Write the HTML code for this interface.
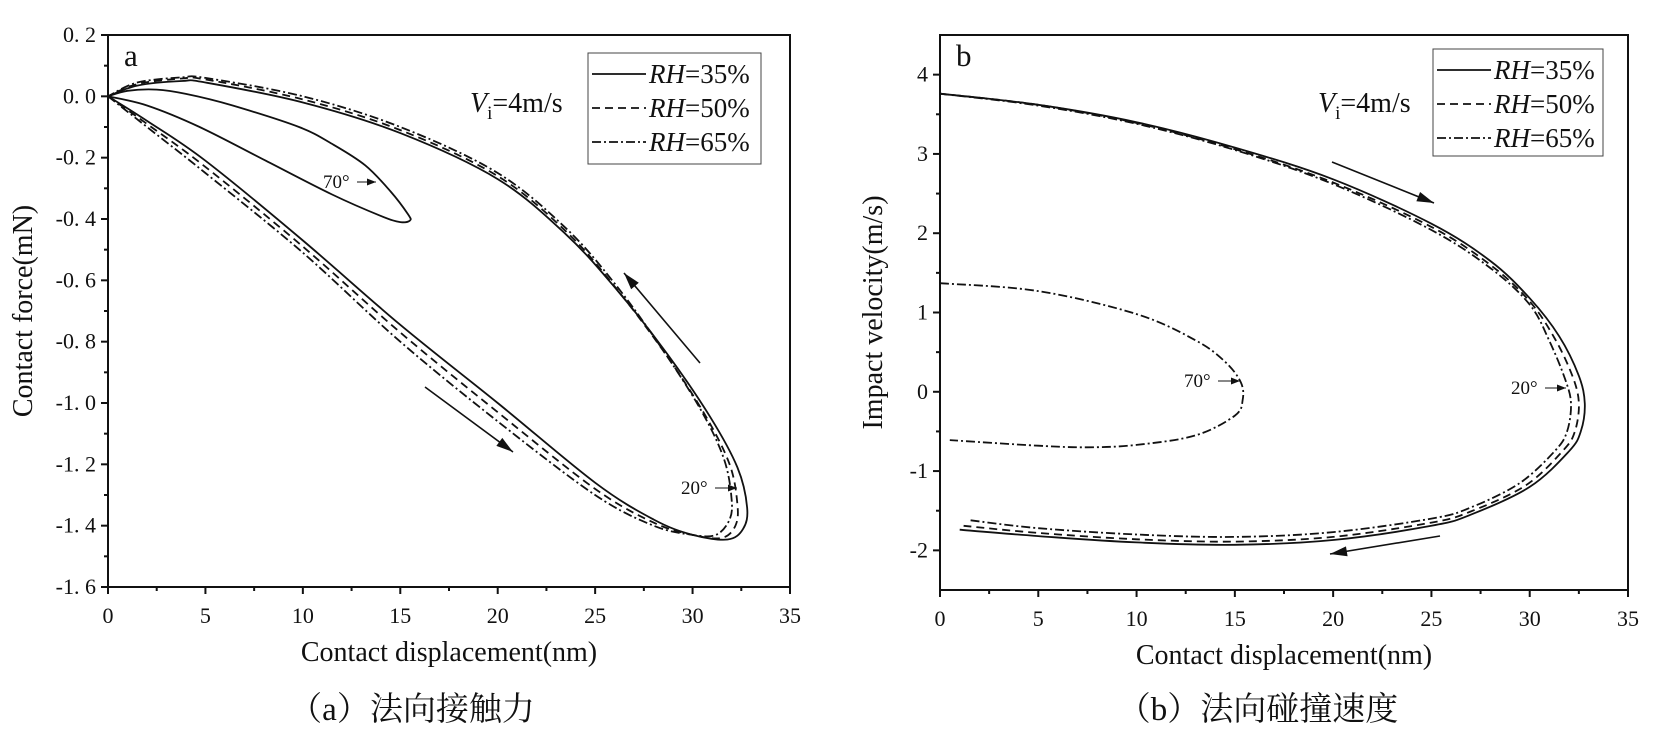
<!DOCTYPE html>
<html><head><meta charset="utf-8">
<style>
html,body{margin:0;padding:0;background:#fff;}
svg{display:block;}
text{font-family:"Liberation Serif","Noto Serif CJK SC",serif;fill:#111;}
</style></head>
<body>
<svg id="fig" width="1657" height="752" viewBox="0 0 1657 752" xmlns="http://www.w3.org/2000/svg"></svg>
<script>
// ---------- Chart a data (contact force vs displacement) ----------
const aXTicks = [0,5,10,15,20,25,30,35];
const aYTicks = [0.2,0.0,-0.2,-0.4,-0.6,-0.8,-1.0,-1.2,-1.4,-1.6];
const aYTickLabels = ["0. 2","0. 0","-0. 2","-0. 4","-0. 6","-0. 8","-1. 0","-1. 2","-1. 4","-1. 6"];
const a20_35x = [0,2,5,10,15,20,25,28,30,31.8,32.6,32.8,32.3,30.9,28.7,26.1,23.5,20,15,10,5,3.8,1.5,0];
const a20_35y = [0,-0.08,-0.21,-0.47,-0.745,-1.0,-1.26,-1.38,-1.43,-1.445,-1.41,-1.34,-1.21,-1.045,-0.84,-0.63,-0.45,-0.27,-0.12,-0.02,0.045,0.05,0.035,0];
const a20_50x = [0,2,5,10,15,20,25,28,30,31.5,32.2,32.3,31.9,30.6,28.5,26,23.5,20,15,10,5,3.8,1.5,0];
const a20_50y = [0,-0.09,-0.23,-0.49,-0.77,-1.03,-1.28,-1.39,-1.43,-1.44,-1.4,-1.33,-1.2,-1.035,-0.83,-0.62,-0.44,-0.26,-0.11,-0.01,0.055,0.058,0.04,0];
const a20_65x = [0,2,5,10,15,20,25,28,30,31.2,31.9,32.0,31.6,30.4,28.4,26,23.5,20,15,10,5,3.8,1.5,0];
const a20_65y = [0,-0.1,-0.25,-0.51,-0.8,-1.06,-1.3,-1.4,-1.43,-1.43,-1.38,-1.31,-1.18,-1.02,-0.82,-0.61,-0.43,-0.25,-0.1,0.0,0.06,0.062,0.045,0];
const a70x = [0,2,4.7,8.1,11.5,14,15,15.5,15.4,14.5,13.2,11.5,9.8,6.4,4,2.5,1,0];
const a70y = [0,-0.03,-0.1,-0.21,-0.32,-0.39,-0.41,-0.405,-0.385,-0.31,-0.225,-0.155,-0.1,-0.03,0.008,0.022,0.018,0];

// ---------- Chart b data (impact velocity vs displacement) ----------
const bXTicks = [0,5,10,15,20,25,30,35];
const bYTicks = [4,3,2,1,0,-1,-2];
const bYTickLabels = ["4","3","2","1","0","-1","-2"];
const b20_35x = [0,5,10,15,20,25,28,30,31.5,32.5,32.8,32.6,32,30,27,25,20,15,10,5,1];
const b20_35y = [3.76,3.62,3.4,3.08,2.68,2.12,1.65,1.18,0.7,0.2,-0.15,-0.5,-0.75,-1.2,-1.55,-1.69,-1.87,-1.93,-1.9,-1.82,-1.74];
const b20_50x = [0,5,10,15,20,25,28,30,31.3,32.2,32.5,32.3,31.7,29.8,27,25,20,15,10,5,1.2];
const b20_50y = [3.76,3.62,3.39,3.06,2.64,2.08,1.6,1.14,0.66,0.18,-0.15,-0.5,-0.74,-1.18,-1.51,-1.65,-1.83,-1.89,-1.86,-1.78,-1.69];
const b20_65x = [0,5,10,15,20,25,28,30,31.0,31.8,32.1,31.9,31.3,29.5,27,25,20,15,10,5,1.5];
const b20_65y = [3.76,3.61,3.38,3.05,2.62,2.04,1.56,1.1,0.64,0.16,-0.15,-0.5,-0.74,-1.15,-1.46,-1.6,-1.77,-1.83,-1.8,-1.72,-1.62];
const b70x = [0,5,10,13,14.5,15.3,15.4,15,13,10,7.5,5,0.5];
const b70y = [1.37,1.27,0.98,0.65,0.38,0.12,-0.1,-0.3,-0.55,-0.67,-0.7,-0.68,-0.61];

const NS = "http://www.w3.org/2000/svg";
const svg = document.getElementById('fig');
function mk(tag, attrs, parent){
  const e = document.createElementNS(NS, tag);
  for (const k in attrs) e.setAttribute(k, attrs[k]);
  (parent||svg).appendChild(e);
  return e;
}
function smoothPath(pts){
  let d = "M"+pts[0][0].toFixed(1)+","+pts[0][1].toFixed(1);
  for (let i=0;i<pts.length-1;i++){
    const p0=pts[Math.max(0,i-1)], p1=pts[i], p2=pts[i+1], p3=pts[Math.min(pts.length-1,i+2)];
    const c1=[p1[0]+(p2[0]-p0[0])/6, p1[1]+(p2[1]-p0[1])/6];
    const c2=[p2[0]-(p3[0]-p1[0])/6, p2[1]-(p3[1]-p1[1])/6];
    d += " C"+c1[0].toFixed(1)+","+c1[1].toFixed(1)+" "+c2[0].toFixed(1)+","+c2[1].toFixed(1)+" "+p2[0].toFixed(1)+","+p2[1].toFixed(1);
  }
  return d;
}
const DASH = {solid:"", dash:"8,5", dashdot:"9,3,2,3"};

function arrow(g,x1,y1,x2,y2,big){
  const l = mk('line',{x1:x1,y1:y1,x2:x2,y2:y2,stroke:'#111','stroke-width':big?1.6:1.1},g);
  
  
  const ang=Math.atan2(y2-y1,x2-x1), L=big?17:9, W=big?5:3.5;
  const bx=x2-L*Math.cos(ang), by=y2-L*Math.sin(ang);
  const px=-Math.sin(ang)*W, py=Math.cos(ang)*W;
  const h = mk('polygon',{points:`${x2},${y2} ${bx+px},${by+py} ${bx-px},${by-py}`,fill:'#111'},g);
  
  
}

function chart(cfg){
  const g = mk('g',{});
  
  
  const X = v => cfg.x0 + (v-cfg.xmin)/(cfg.xmax-cfg.xmin)*(cfg.x1-cfg.x0);
  const Y = v => cfg.y1 - (v-cfg.ymin)/(cfg.ymax-cfg.ymin)*(cfg.y1-cfg.y0);
  const fr = mk('rect',{x:cfg.x0,y:cfg.y0,width:cfg.x1-cfg.x0,height:cfg.y1-cfg.y0,fill:'none',stroke:'#111','stroke-width':2},g);
  
  
  cfg.xTicks.forEach((v,i)=>{
    const x=X(v);
    const t = mk('line',{x1:x,y1:cfg.y1,x2:x,y2:cfg.y1+7,stroke:'#111','stroke-width':2},g);
    
    
    if (i<cfg.xTicks.length-1){
      const xm=X(v+(cfg.xTicks[1]-cfg.xTicks[0])/2);
      const m = mk('line',{x1:xm,y1:cfg.y1,x2:xm,y2:cfg.y1+4,stroke:'#111','stroke-width':2},g);
      
      
    }
    const tl = mk('text',{x:x,y:cfg.y1+36,'text-anchor':'middle','font-size':22},g);
    tl.textContent = String(v);
    
    
  });
  cfg.yTicks.forEach((v,i)=>{
    const y=Y(v);
    const t = mk('line',{x1:cfg.x0-7,y1:y,x2:cfg.x0,y2:y,stroke:'#111','stroke-width':2},g);
    
    
    if (i<cfg.yTicks.length-1){
      const ym=Y(v+(cfg.yTicks[1]-cfg.yTicks[0])/2);
      const m = mk('line',{x1:cfg.x0-4,y1:ym,x2:cfg.x0,y2:ym,stroke:'#111','stroke-width':2},g);
      
      
    }
    const tl = mk('text',{x:cfg.x0-12,y:y+7,'text-anchor':'end','font-size':22},g);
    tl.textContent = cfg.yTickLabels[i];
    
    
  });
  cfg.series.forEach(s=>{
    const pts = s.x.map((v,i)=>[X(v),Y(s.y[i])]);
    const p = mk('path',{d:smoothPath(pts),fill:'none',stroke:'#111','stroke-width':1.8,'stroke-dasharray':DASH[s.style]||''},g);
    
    
  });
  const xt = mk('text',{x:(cfg.x0+cfg.x1)/2,y:cfg.y1+74,'text-anchor':'middle','font-size':28},g);
  xt.textContent = 'Contact displacement(nm)';
  
  
  const yt = mk('text',{x:0,y:0,'text-anchor':'middle','font-size':28,transform:`translate(${cfg.ytx},${(cfg.y0+cfg.y1)/2}) rotate(-90)`},g);
  yt.textContent = cfg.yTitle;
  
  
  const pl = mk('text',{x:cfg.x0+16,y:cfg.y0+31,'font-size':31},g);
  pl.textContent = cfg.letter;
  
  
  const vi = mk('text',{x:cfg.vix,y:cfg.viy,'font-size':28},g);
  vi.innerHTML = '<tspan font-style="italic">V</tspan><tspan font-size="19" dy="7">i</tspan><tspan dy="-7">=4m/s</tspan>';
  
  
  const lg = mk('g',{},g);
  
  
  const lb = mk('rect',{x:cfg.lx,y:cfg.ly,width:cfg.lw,height:cfg.lh,fill:'#fff',stroke:'#444','stroke-width':1},lg);
  
  
  [['solid','35%'],['dash','50%'],['dashdot','65%']].forEach((e,i)=>{
    const yy = cfg.ly+21+i*34;
    const ln = mk('line',{x1:cfg.lx+4,y1:yy,x2:cfg.lx+58,y2:yy,stroke:'#111','stroke-width':1.8,'stroke-dasharray':DASH[e[0]]},lg);
    
    
    const tx = mk('text',{x:cfg.lx+61,y:yy+9,'font-size':27},lg);
    tx.innerHTML = '<tspan font-style="italic">RH</tspan>='+e[1];
    
    
  });
  cfg.notes.forEach(n=>{
    const t = mk('text',{x:n[0],y:n[1],'font-size':19},g);
    t.textContent = n[2];
    
    
    arrow(g,n[0]+34,n[1]-6,n[3],n[1]-6,false);
  });
  cfg.arrows.forEach(a=>arrow(g,a[0],a[1],a[2],a[3],true));
  const cp = mk('text',{x:cfg.capx,y:720,'text-anchor':'middle','font-size':33},g);
  cp.textContent = cfg.caption;
  
  
}

chart({name:'chart-a-contact-force',x0:108,x1:790,y0:35,y1:587,xmin:0,xmax:35,ymin:-1.6,ymax:0.2,
  xTicks:aXTicks,yTicks:aYTicks,yTickLabels:aYTickLabels,ytx:32,yTitle:'Contact force(mN)',letter:'a',
  vix:470,viy:112,lx:588,ly:53,lw:173,lh:111,
  series:[
    {name:'series-rh35-20deg',x:a20_35x,y:a20_35y,style:'solid'},
    {name:'series-rh50-20deg',x:a20_50x,y:a20_50y,style:'dash'},
    {name:'series-rh65-20deg',x:a20_65x,y:a20_65y,style:'dashdot'},
    {name:'series-70deg',x:a70x,y:a70y,style:'solid'}],
  notes:[[323,188,'70°',376],[681,494,'20°',737]],
  arrows:[[425,387,513,452],[700,363,624,273]],
  capx:412,caption:'（a）法向接触力'});

chart({name:'chart-b-impact-velocity',x0:940,x1:1628,y0:35,y1:590,xmin:0,xmax:35,ymin:-2.5,ymax:4.5,
  xTicks:bXTicks,yTicks:bYTicks,yTickLabels:bYTickLabels,ytx:882,yTitle:'Impact velocity(m/s)',letter:'b',
  vix:1318,viy:112,lx:1433,ly:49,lw:170,lh:107,
  series:[
    {name:'series-rh35-20deg',x:b20_35x,y:b20_35y,style:'solid'},
    {name:'series-rh50-20deg',x:b20_50x,y:b20_50y,style:'dash'},
    {name:'series-rh65-20deg',x:b20_65x,y:b20_65y,style:'dashdot'},
    {name:'series-70deg',x:b70x,y:b70y,style:'dashdot'}],
  notes:[[1184,387,'70°',1240],[1511,394,'20°',1566]],
  arrows:[[1332,162,1434,203],[1440,536,1330,554]],
  capx:1258,caption:'（b）法向碰撞速度'});
</script>
</body></html>
